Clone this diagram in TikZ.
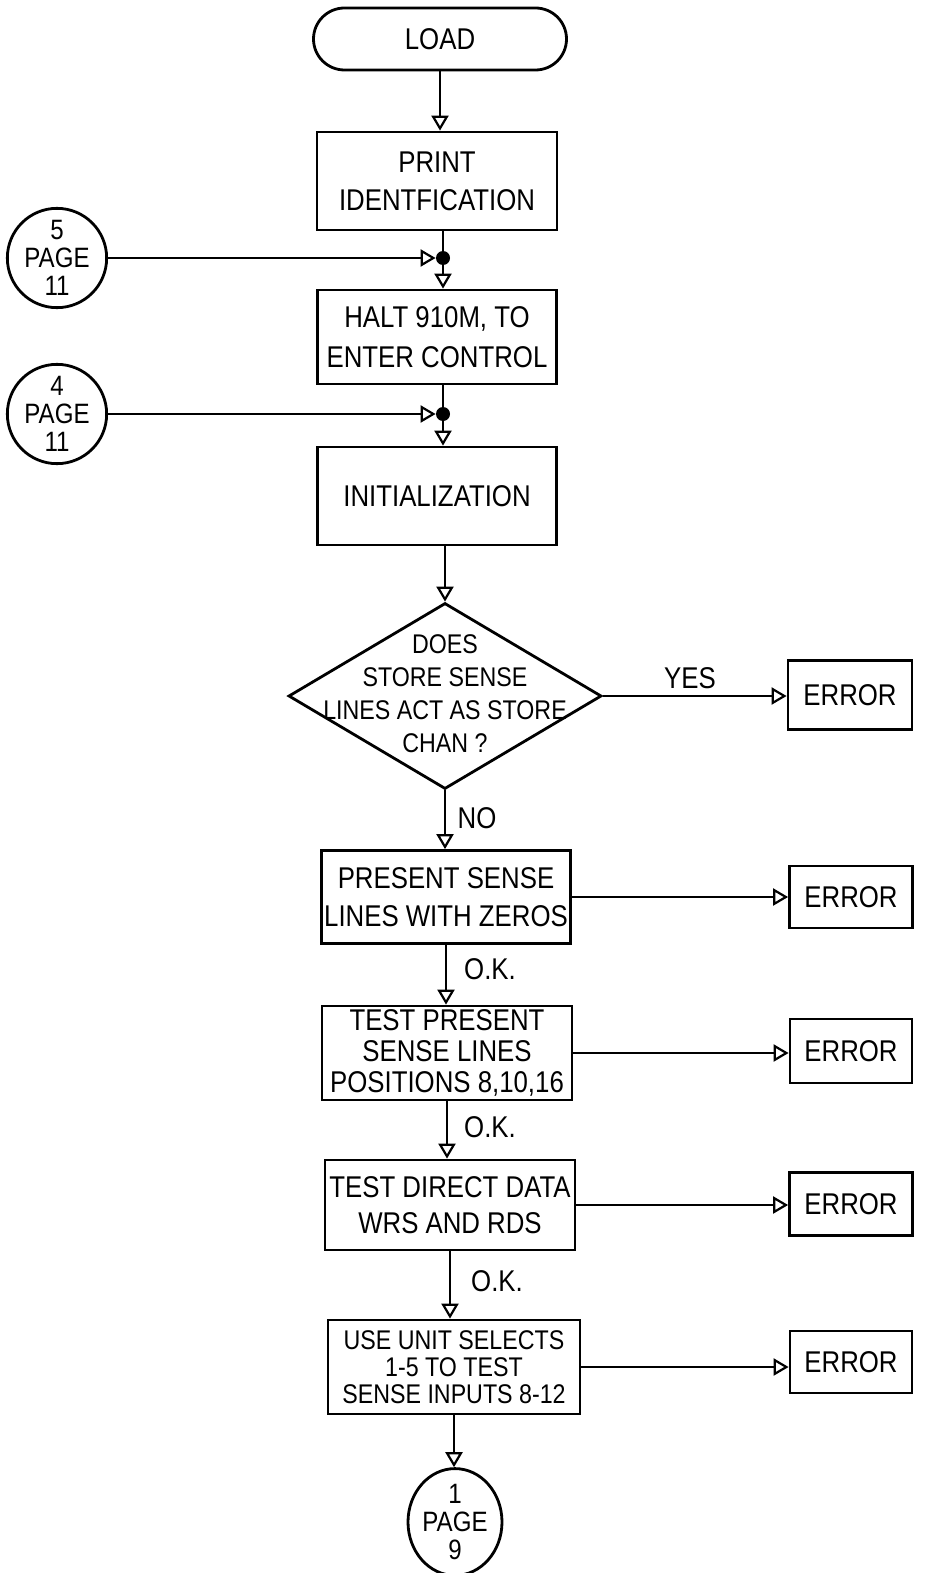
\documentclass[tikz,border=0pt]{standalone}
\usepackage{fontspec}
\setmainfont[FakeStretch=0.86]{Liberation Sans}
\usetikzlibrary{shapes.geometric,shapes.misc,arrows.meta}
\begin{document}
\begin{tikzpicture}[x=0.5pt,y=-0.5pt,
  lw/.style={line width=1.4pt},
  txt/.style={font=\fontsize{15}{#1}\selectfont},
  txt/.default=19,
  box/.style={draw,lw,rectangle,align=center,inner sep=0pt,txt},
  conn/.style={draw,lw,circle,align=center,inner sep=0pt,minimum size=47.5pt,font=\fontsize{14}{14}\selectfont},
  arr/.style={lw,-{Triangle[open,length=7.5pt,width=8.5pt,line width=1.1pt]}},
  plain/.style={lw},
  dot/.style={circle,fill=black,inner sep=0pt,minimum size=7pt},
  lab/.style={txt}]
\useasboundingbox (0,0) rectangle (926,1573);

\node[draw,lw,rounded rectangle,minimum width=126.5pt,minimum height=31pt,inner sep=0pt,txt] (load) at (440,39) {LOAD};
\node[box,minimum width=120pt,minimum height=49pt] (print) at (437,181) {PRINT\\IDENTFICATION};
\node[dot] (j1) at (443,258) {};
\node[conn] (c5) at (57,258) {5\\PAGE\\11};
\node[box,minimum width=119.5pt,minimum height=47pt,txt=20] (halt) at (437,337) {HALT 910M, TO\\ENTER CONTROL};
\node[dot] (j2) at (443,414) {};
\node[conn] (c4) at (57,414) {4\\PAGE\\11};
\node[box,minimum width=119.5pt,minimum height=49pt] (init) at (437,496) {INITIALIZATION};
\node[draw,lw,diamond,minimum width=156.5pt,minimum height=93pt,inner sep=0pt] (dec) at (445,696) {};
\node[align=center,font=\fontsize{13.5}{16.5}\selectfont] (dectext) at (445,694) {DOES\\STORE SENSE\\LINES ACT AS STORE\\CHAN ?};
\node[box,minimum width=62pt,minimum height=34.5pt] (err1) at (850,695) {ERROR};
\node[box,minimum width=124.5pt,minimum height=46.5pt] (present) at (446,897) {PRESENT SENSE\\LINES WITH ZEROS};
\node[box,minimum width=61.5pt,minimum height=31pt] (err2) at (851,897) {ERROR};
\node[box,minimum width=125pt,minimum height=47pt,txt=15.5] (testp) at (447,1053) {TEST PRESENT\\SENSE LINES\\POSITIONS 8,10,16};
\node[box,minimum width=61pt,minimum height=32pt] (err3) at (851,1051) {ERROR};
\node[box,minimum width=125pt,minimum height=45pt,txt=18] (testd) at (450,1205) {TEST DIRECT DATA\\WRS AND RDS};
\node[box,minimum width=61.5pt,minimum height=31.5pt] (err4) at (851,1204) {ERROR};
\node[box,minimum width=126pt,minimum height=47pt,font=\fontsize{13.5}{13.5}\selectfont] (use) at (454,1367) {USE UNIT SELECTS\\1-5 TO TEST\\SENSE INPUTS 8-12};
\node[box,minimum width=61pt,minimum height=31pt] (err5) at (851,1362) {ERROR};
\node[draw,lw,ellipse,minimum width=47pt,minimum height=50pt,inner sep=0pt,align=center,font=\fontsize{14}{14}\selectfont] (c1) at (455,1522) {1\\PAGE\\9};

\node[lab] (yes) at (690,678) {YES};
\node[lab] (no) at (477,818) {NO};
\node[lab] (ok1) at (490,969) {O.K.};
\node[lab] (ok2) at (490,1127) {O.K.};
\node[lab] (ok3) at (497,1281) {O.K.};

\draw[arr] (load.south) -- (load.south |- print.north);
\draw[plain] (print.south -| j1) -- (j1);
\draw[arr] (c5.east) -- (j1.west);
\draw[arr] (j1) -- (j1 |- halt.north);
\draw[plain] (halt.south -| j2) -- (j2);
\draw[arr] (c4.east) -- (j2.west);
\draw[arr] (j2) -- (j2 |- init.north);
\draw[arr] (init.south -| dec.north) -- (dec.north);
\draw[arr] (dec.east) -- (dec.east -| err1.west);
\draw[arr] (dec.south) -- (dec.south |- present.north);
\draw[arr] (present.east) -- (present.east -| err2.west);
\draw[arr] (present.south) -- (present.south |- testp.north);
\draw[arr] (testp.east) -- (testp.east -| err3.west);
\draw[arr] (testp.south) -- (testp.south |- testd.north);
\draw[arr] (testd.east) -- (testd.east -| err4.west);
\draw[arr] (testd.south) -- (testd.south |- use.north);
\draw[arr] (use.east) -- (use.east -| err5.west);
\draw[arr] (use.south) -- (use.south |- c1.north);
\end{tikzpicture}
\end{document}
